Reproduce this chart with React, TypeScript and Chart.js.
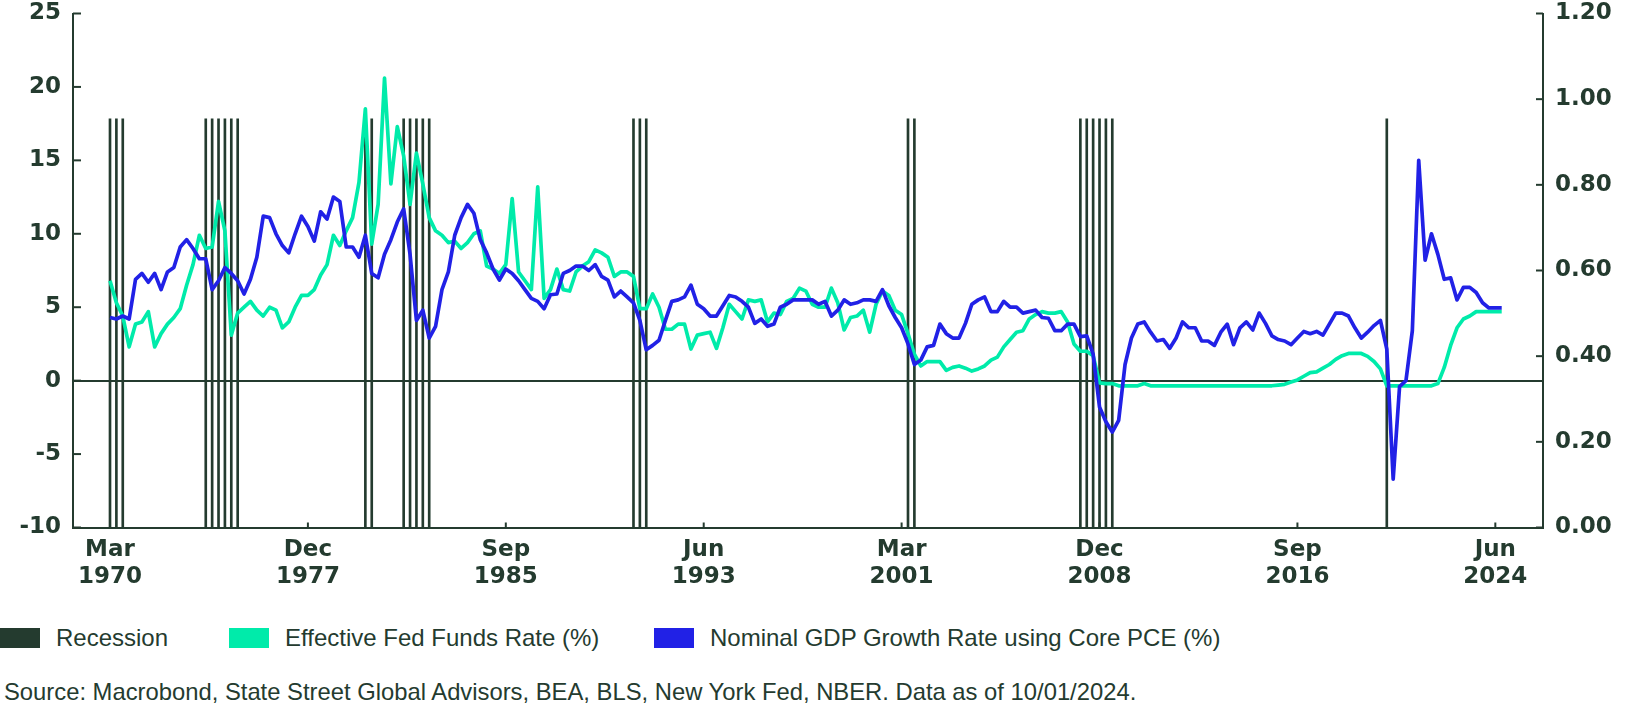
import React, { useEffect, useRef } from "react";
import { Chart, registerables } from "chart.js";

Chart.register(...registerables);

const DARK = "#243B2F";
const GREEN = "#00EBAA";
const BLUE = "#2121E6";

// quarter index 0 = Mar 1970, step = 1 quarter
const X_TICK_POSITIONS = [0, 31, 62, 93, 124, 155, 186, 217];
const X_TICK_LABELS = [
  ["Mar", "1970"],
  ["Dec", "1977"],
  ["Sep", "1985"],
  ["Jun", "1993"],
  ["Mar", "2001"],
  ["Dec", "2008"],
  ["Sep", "2016"],
  ["Jun", "2024"],
];

const RECESSION_QUARTERS = [
  0, 1, 2, 15, 16, 17, 18, 19, 20, 40, 41, 46, 47, 48, 49, 50, 82, 83, 84, 125, 126,
  152, 153, 154, 155, 156, 157, 200,
];
const RECESSION_HEIGHT = 0.954;

const FED_FUNDS = [
  6.8, 5.3, 4.4, 2.3, 3.85, 4.0, 4.7, 2.3, 3.2, 3.85,
  4.3, 4.9, 6.5, 7.9, 9.9, 9.0, 9.1, 12.2, 10.2, 3.1,
  4.6, 5.0, 5.4, 4.8, 4.4, 5.0, 4.8, 3.6, 4.0, 5.0,
  5.8, 5.8, 6.2, 7.2, 7.9, 9.9, 9.2, 10.2, 11.1, 13.5,
  18.5, 9.3, 12.0, 20.6, 13.4, 17.3, 15.3, 12.0, 15.5, 13.4,
  11.1, 10.2, 9.9, 9.4, 9.5, 9.0, 9.4, 10.0, 10.2, 7.8,
  7.6, 7.3, 7.9, 12.4, 7.4, 6.8, 6.2, 13.2, 5.6, 6.2,
  7.6, 6.2, 6.1, 7.4, 7.8, 8.1, 8.9, 8.7, 8.4, 7.1,
  7.4, 7.4, 7.1, 4.9, 4.9, 5.9, 5.0, 3.5, 3.5, 3.85,
  3.85, 2.15, 3.1, 3.2, 3.3, 2.2, 3.6, 5.2, 4.7, 4.2,
  5.5, 5.4, 5.5, 4.0, 4.6, 4.5, 5.4, 5.6, 6.3, 6.1,
  5.2, 5.0, 5.0, 6.3, 5.3, 3.45, 4.3, 4.4, 4.8, 3.3,
  5.2, 6.1, 5.8, 4.8, 4.5, 3.2, 1.8, 1.0, 1.3, 1.3,
  1.3, 0.7, 0.9, 1.0, 0.85, 0.65, 0.8, 1.0, 1.4, 1.6,
  2.3, 2.8, 3.3, 3.4, 4.2, 4.5, 4.7, 4.6, 4.6, 4.7,
  4.0, 2.5, 2.0, 2.0, 1.7, -0.15, -0.2, -0.2, -0.35, -0.35,
  -0.35, -0.35, -0.2, -0.35, -0.35, -0.35, -0.35, -0.35, -0.35, -0.35,
  -0.35, -0.35, -0.35, -0.35, -0.35, -0.35, -0.35, -0.35, -0.35, -0.35,
  -0.35, -0.35, -0.35, -0.3, -0.25, -0.1, 0.05, 0.3, 0.55, 0.6,
  0.85, 1.1, 1.45, 1.7, 1.85, 1.85, 1.85, 1.65, 1.3, 0.8,
  -0.35, -0.35, -0.35, -0.35, -0.35, -0.35, -0.35, -0.35, -0.2, 0.9,
  2.4, 3.6, 4.2, 4.4, 4.7, 4.7, 4.7, 4.7, 4.7,
];

const NOMINAL_GDP = [
  4.3, 4.2, 4.4, 4.2, 6.9, 7.3, 6.7, 7.3, 6.2, 7.4,
  7.7, 9.1, 9.6, 9.0, 8.3, 8.3, 6.2, 6.8, 7.7, 7.3,
  6.8, 5.9, 6.9, 8.4, 11.2, 11.1, 10.0, 9.2, 8.7, 10.0,
  11.2, 10.5, 9.5, 11.5, 11.0, 12.5, 12.2, 9.1, 9.1, 8.4,
  9.9, 7.3, 7.0, 8.6, 9.6, 10.8, 11.7, 8.6, 4.1, 4.8,
  2.9, 3.7, 6.2, 7.4, 9.9, 11.1, 12.0, 11.4, 9.6, 8.7,
  7.6, 6.85, 7.6, 7.3, 6.8, 6.2, 5.6, 5.4, 4.9, 5.85,
  5.9, 7.3, 7.5, 7.8, 7.8, 7.5, 7.9, 7.1, 6.85, 5.7,
  6.1, 5.7, 5.3, 4.1, 2.1, 2.4, 2.75, 4.1, 5.4, 5.5,
  5.7, 6.5, 5.2, 4.9, 4.4, 4.4, 5.1, 5.8, 5.7, 5.4,
  5.0, 3.9, 4.2, 3.7, 3.85, 5.0, 5.2, 5.5, 5.5, 5.5,
  5.5, 5.2, 5.4, 4.4, 4.8, 5.5, 5.2, 5.3, 5.5, 5.5,
  5.4, 6.2, 5.1, 4.3, 3.6, 2.5, 1.1, 1.4, 2.3, 2.4,
  3.85, 3.2, 2.9, 2.9, 3.9, 5.2, 5.5, 5.7, 4.7, 4.7,
  5.4, 5.0, 5.0, 4.6, 4.7, 4.8, 4.3, 4.25, 3.4, 3.4,
  3.85, 3.85, 3.0, 3.05, 1.8, -1.8, -2.8, -3.5, -2.7, 1.1,
  2.9, 3.85, 4.0, 3.3, 2.7, 2.8, 2.2, 2.9, 4.0, 3.6,
  3.6, 2.7, 2.7, 2.4, 3.3, 3.85, 2.45, 3.6, 4.0, 3.45,
  4.6, 3.9, 3.05, 2.8, 2.7, 2.45, 2.9, 3.35, 3.2, 3.35,
  3.1, 3.85, 4.6, 4.6, 4.4, 3.6, 2.9, 3.3, 3.75, 4.1,
  2.15, -6.7, -0.4, 0.0, 3.4, 15.0, 8.2, 10.0, 8.6, 6.9,
  7.0, 5.5, 6.35, 6.35, 6.0, 5.3, 4.95, 4.95, 4.95,
];

const LEFT_MIN = -10;
const LEFT_MAX = 25;
const RIGHT_MIN = 0;
const RIGHT_MAX = 1.2;

const LEGEND_ITEMS = [
  { label: "Recession", color: DARK, left: 0 },
  { label: "Effective Fed Funds Rate (%)", color: GREEN, left: 229 },
  { label: "Nominal GDP Growth Rate using Core PCE (%)", color: BLUE, left: 654 },
];
const SOURCE_TEXT =
  "Source: Macrobond, State Street Global Advisors, BEA, BLS, New York Fed, NBER. Data as of 10/01/2024.";

const CANVAS_W = 1626;
const CANVAS_H = 600;
const AREA_LEFT = 73;
const AREA_RIGHT = 1543;
const AREA_TOP = 13.5;
const AREA_BOTTOM = 527.5;
const FIRST_X = 110;
const QUARTER_PX = 6.384;

const inwardTicks = {
  id: "inwardTicks",
  afterDraw(chart: any) {
    const { ctx, chartArea, scales } = chart;
    ctx.save();
    ctx.strokeStyle = DARK;
    ctx.lineWidth = 2;
    const seg = (x1: number, y1: number, x2: number, y2: number) => {
      ctx.beginPath();
      ctx.moveTo(x1, y1);
      ctx.lineTo(x2, y2);
      ctx.stroke();
    };
    scales.y.ticks.forEach((t: any) => {
      const y = scales.y.getPixelForValue(t.value);
      seg(chartArea.left, y, chartArea.left + 8, y);
    });
    scales.y1.ticks.forEach((t: any) => {
      const y = scales.y1.getPixelForValue(t.value);
      seg(chartArea.right - 7, y, chartArea.right, y);
    });
    scales.x.ticks.forEach((t: any) => {
      const x = scales.x.getPixelForValue(t.value);
      seg(x, chartArea.bottom, x, chartArea.bottom - 5);
    });
    ctx.restore();
  },
};

const zeroPad = (scale: any) => {
  scale.paddingTop = 0;
  scale.paddingBottom = 0;
};

export default function App() {
  const canvasRef = useRef<HTMLCanvasElement | null>(null);

  useEffect(() => {
    document.body.style.margin = "0";
    const canvas = canvasRef.current;
    if (!canvas) return;
    const tickFont = { family: "'DejaVu Sans', sans-serif", size: 23, weight: "bold" as const, lineHeight: 1.18 };

    const chart = new Chart(canvas, {
      type: "line",
      data: {
        datasets: [
          {
            type: "bar",
            label: "Recession",
            data: RECESSION_QUARTERS.map((q) => ({ x: q, y: RECESSION_HEIGHT })),
            backgroundColor: DARK,
            borderWidth: 0,
            barThickness: 2,
            xAxisID: "x",
            yAxisID: "y1",
            order: 3,
          } as any,
          {
            type: "line",
            label: "Effective Fed Funds Rate (%)",
            data: FED_FUNDS.map((v, i) => ({ x: i, y: v })),
            borderColor: GREEN,
            backgroundColor: GREEN,
            borderWidth: 3.7,
            pointRadius: 0,
            tension: 0,
            borderJoinStyle: "round",
            xAxisID: "x",
            yAxisID: "y",
            order: 2,
          },
          {
            type: "line",
            label: "Nominal GDP Growth Rate using Core PCE (%)",
            data: NOMINAL_GDP.map((v, i) => ({ x: i, y: v })),
            borderColor: BLUE,
            backgroundColor: BLUE,
            borderWidth: 3.7,
            pointRadius: 0,
            tension: 0,
            borderJoinStyle: "round",
            xAxisID: "x",
            yAxisID: "y",
            order: 1,
          },
        ],
      },
      options: {
        responsive: false,
        animation: false,
        devicePixelRatio: 1,
        layout: { padding: { top: AREA_TOP, left: 0, right: 0, bottom: 0 } },
        plugins: {
          legend: { display: false },
          tooltip: { enabled: false },
        },
        scales: {
          x: {
            type: "linear",
            offset: false,
            min: -(FIRST_X - AREA_LEFT) / QUARTER_PX,
            max: (AREA_RIGHT - FIRST_X) / QUARTER_PX,
            bounds: "data",
            afterBuildTicks: (scale: any) => {
              scale.ticks = X_TICK_POSITIONS.map((v) => ({ value: v }));
            },
            afterFit: (scale: any) => {
              scale.height = CANVAS_H - AREA_BOTTOM;
              scale.paddingLeft = 0;
              scale.paddingRight = 0;
            },
            grid: { display: true, offset: false, drawOnChartArea: false, drawTicks: false },
            border: { display: true, color: DARK, width: 2 },
            ticks: {
              autoSkip: false,
              maxRotation: 0,
              minRotation: 0,
              padding: 9,
              color: DARK,
              font: tickFont,
              callback: (_v: any, idx: number) => X_TICK_LABELS[idx],
            },
          },
          y: {
            type: "linear",
            position: "left",
            min: LEFT_MIN,
            max: LEFT_MAX,
            afterFit: (scale: any) => {
              scale.width = AREA_LEFT;
              zeroPad(scale);
            },
            grid: {
              drawTicks: false,
              lineWidth: 2,
              color: (ctx: any) => (ctx.tick && ctx.tick.value === 0 ? DARK : "rgba(0,0,0,0)"),
            },
            border: { display: true, color: DARK, width: 2 },
            ticks: { stepSize: 5, padding: 12, color: DARK, font: tickFont },
          },
          y1: {
            type: "linear",
            position: "right",
            min: RIGHT_MIN,
            max: RIGHT_MAX,
            afterFit: (scale: any) => {
              scale.width = CANVAS_W - AREA_RIGHT;
              zeroPad(scale);
            },
            grid: { drawOnChartArea: false, drawTicks: false },
            border: { display: true, color: DARK, width: 2 },
            ticks: {
              stepSize: 0.2,
              padding: 12,
              color: DARK,
              font: tickFont,
              callback: (v: any) => Number(v).toFixed(2),
            },
          },
        },
      },
      plugins: [inwardTicks],
    } as any);

    return () => chart.destroy();
  }, []);

  return (
    <div
      style={{
        position: "relative",
        width: CANVAS_W,
        height: 714,
        background: "#ffffff",
        color: DARK,
        fontFamily: "'Liberation Sans', Arial, sans-serif",
        overflow: "hidden",
      }}
    >
      <canvas
        ref={canvasRef}
        width={CANVAS_W}
        height={CANVAS_H}
        style={{ position: "absolute", left: 0, top: 0, width: CANVAS_W, height: CANVAS_H }}
      />
      {LEGEND_ITEMS.map((item) => (
        <div key={item.label} style={{ position: "absolute", left: item.left, top: 628, height: 20 }}>
          <div
            style={{
              position: "absolute",
              left: 0,
              top: 0,
              width: 40,
              height: 20,
              background: item.color,
            }}
          />
          <div
            style={{
              position: "absolute",
              left: 56,
              top: 0,
              whiteSpace: "nowrap",
              fontSize: 24,
              lineHeight: "20px",
            }}
          >
            {item.label}
          </div>
        </div>
      ))}
      <div
        style={{
          position: "absolute",
          left: 4,
          top: 682,
          whiteSpace: "nowrap",
          fontSize: 23.8,
          lineHeight: "20px",
        }}
      >
        {SOURCE_TEXT}
      </div>
    </div>
  );
}
